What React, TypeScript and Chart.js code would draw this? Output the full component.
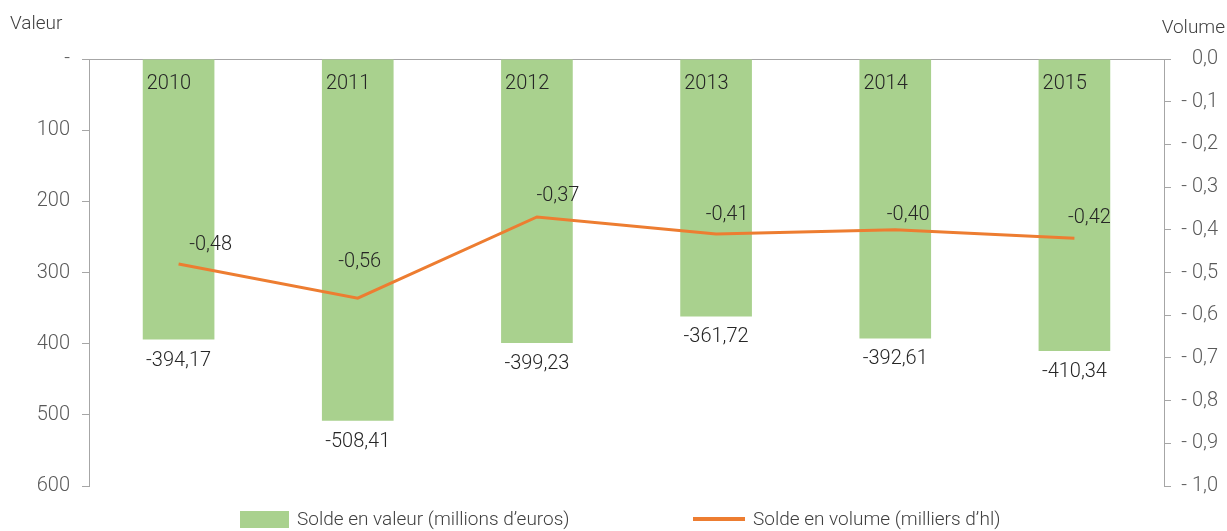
import { useEffect, useRef } from "react";
import { Chart, registerables } from "chart.js";

Chart.register(...registerables);

const years = ["2010", "2011", "2012", "2013", "2014", "2015"];
const soldeValeur = [-394.17, -508.41, -399.23, -361.72, -392.61, -410.34];
const soldeVolume = [-0.48, -0.56, -0.37, -0.41, -0.4, -0.42];
const legendLabels = ["Solde en valeur (millions d\u2019euros)", "Solde en volume (milliers d\u2019hl)"];
const axisTitles = ["Valeur", "Volume"];

// styling: label offsets for the volume line labels (px)
const lineLabelOffsets = [
  [32, -19],
  [2, -36],
  [21, -21],
  [11, -19],
  [13, -15],
  [15, -20],
];

const GREEN = "#A9D18E";
const ORANGE = "#ED7D31";
const AXIS = "#A6A6A6";
const FONT = "Roboto";

const fmt = (v: number) => v.toFixed(2).replace(".", ",");

const annotations = {
  id: "annotations",
  afterDatasetsDraw(chart: any) {
    const ctx = chart.ctx;
    ctx.save();
    ctx.font = `300 20px ${FONT}`;
    ctx.fillStyle = "#262626";
    ctx.textBaseline = "middle";
    const barMeta = chart.getDatasetMeta(0);
    // category labels inside the bars, at the top-left
    ctx.textAlign = "left";
    barMeta.data.forEach((el: any, i: number) => {
      ctx.fillText(years[i], el.x - el.width / 2 + 4, chart.chartArea.top + 25);
    });
    ctx.textAlign = "center";
    barMeta.data.forEach((el: any, i: number) => {
      ctx.fillText(fmt(soldeValeur[i]), el.x, el.y + 21);
    });
    const lineMeta = chart.getDatasetMeta(1);
    lineMeta.data.forEach((el: any, i: number) => {
      const [dx, dy] = lineLabelOffsets[i];
      ctx.fillText(fmt(soldeVolume[i]), el.x + dx, el.y + dy);
    });
    ctx.restore();
  },
  afterDraw(chart: any) {
    const ctx = chart.ctx;
    ctx.save();
    ctx.font = `300 19px ${FONT}`;
    ctx.fillStyle = "#404040";
    ctx.textBaseline = "middle";
    ctx.textAlign = "left";
    ctx.fillText(axisTitles[0], 10, 24);
    ctx.textAlign = "right";
    ctx.fillText(axisTitles[1], 1225, 28);

    // legend
    ctx.font = `300 19px ${FONT}`;
    ctx.textAlign = "left";
    ctx.fillStyle = GREEN;
    ctx.fillRect(240, 511, 49, 17);
    ctx.fillStyle = "#404040";
    ctx.fillText(legendLabels[0], 297, 520);
    ctx.strokeStyle = ORANGE;
    ctx.lineWidth = 4;
    ctx.beginPath();
    ctx.moveTo(693, 519);
    ctx.lineTo(745, 519);
    ctx.stroke();
    ctx.fillText(legendLabels[1], 753, 520);
    ctx.restore();
  },
};

export default function App() {
  const ref = useRef<HTMLCanvasElement>(null);
  useEffect(() => {
    if (!ref.current) return;
    const tickFont = { family: FONT, size: 20, weight: "300" as any };
    const chart = new Chart(ref.current, {
      type: "bar",
      data: {
        labels: years,
        datasets: [
          {
            type: "bar",
            label: legendLabels[0],
            data: soldeValeur,
            backgroundColor: GREEN,
            yAxisID: "y",
            barPercentage: 0.4,
            categoryPercentage: 1,
            order: 2,
          },
          {
            type: "line",
            label: legendLabels[1],
            data: soldeVolume,
            borderColor: ORANGE,
            backgroundColor: ORANGE,
            borderWidth: 3,
            pointRadius: 0,
            tension: 0,
            yAxisID: "y1",
            order: 1,
          } as any,
        ],
      },
      options: {
        animation: false,
        responsive: false,
        layout: { padding: { top: 59, bottom: 45, left: 0, right: 9 } },
        plugins: {
          legend: { display: false },
          tooltip: { enabled: false },
        },
        scales: {
          x: {
            position: "top",
            offset: true,
            grid: { display: false },
            border: { display: true, color: AXIS, width: 1 },
            ticks: { display: false },
            afterFit: (s: any) => {
              s.height = 0;
            },
          } as any,
          y: {
            position: "left",
            min: -600,
            max: 0,
            ticks: {
              stepSize: 100,
              padding: 12,
              font: tickFont,
              color: "#595959",
              callback: (v: any) => (Number(v) === 0 ? "-" : String(Math.abs(Number(v)))),
            },
            grid: { drawOnChartArea: false, tickLength: 7, color: AXIS },
            border: { color: AXIS },
            afterFit: (s: any) => {
              s.width = 89;
            },
          } as any,
          y1: {
            position: "right",
            min: -1,
            max: 0,
            ticks: {
              stepSize: 0.1,
              padding: 11,
              font: tickFont,
              color: "#595959",
              crossAlign: "far",
              callback: (v: any) => {
                const n = Number(v);
                const s = Math.abs(n).toFixed(1).replace(".", ",");
                return Math.abs(n) < 1e-9 ? "0,0" : "- " + s;
              },
            },
            grid: { drawOnChartArea: false, tickLength: 7, color: AXIS },
            border: { color: AXIS },
            afterFit: (s: any) => {
              s.width = 54;
            },
          } as any,
        },
      },
      plugins: [annotations],
    });
    return () => chart.destroy();
  }, []);
  return (
    <div style={{ position: "fixed", left: 0, top: 0, width: 1227, height: 531, background: "#fff" }}>
      <canvas ref={ref} width={1227} height={531} style={{ display: "block" }} />
    </div>
  );
}
